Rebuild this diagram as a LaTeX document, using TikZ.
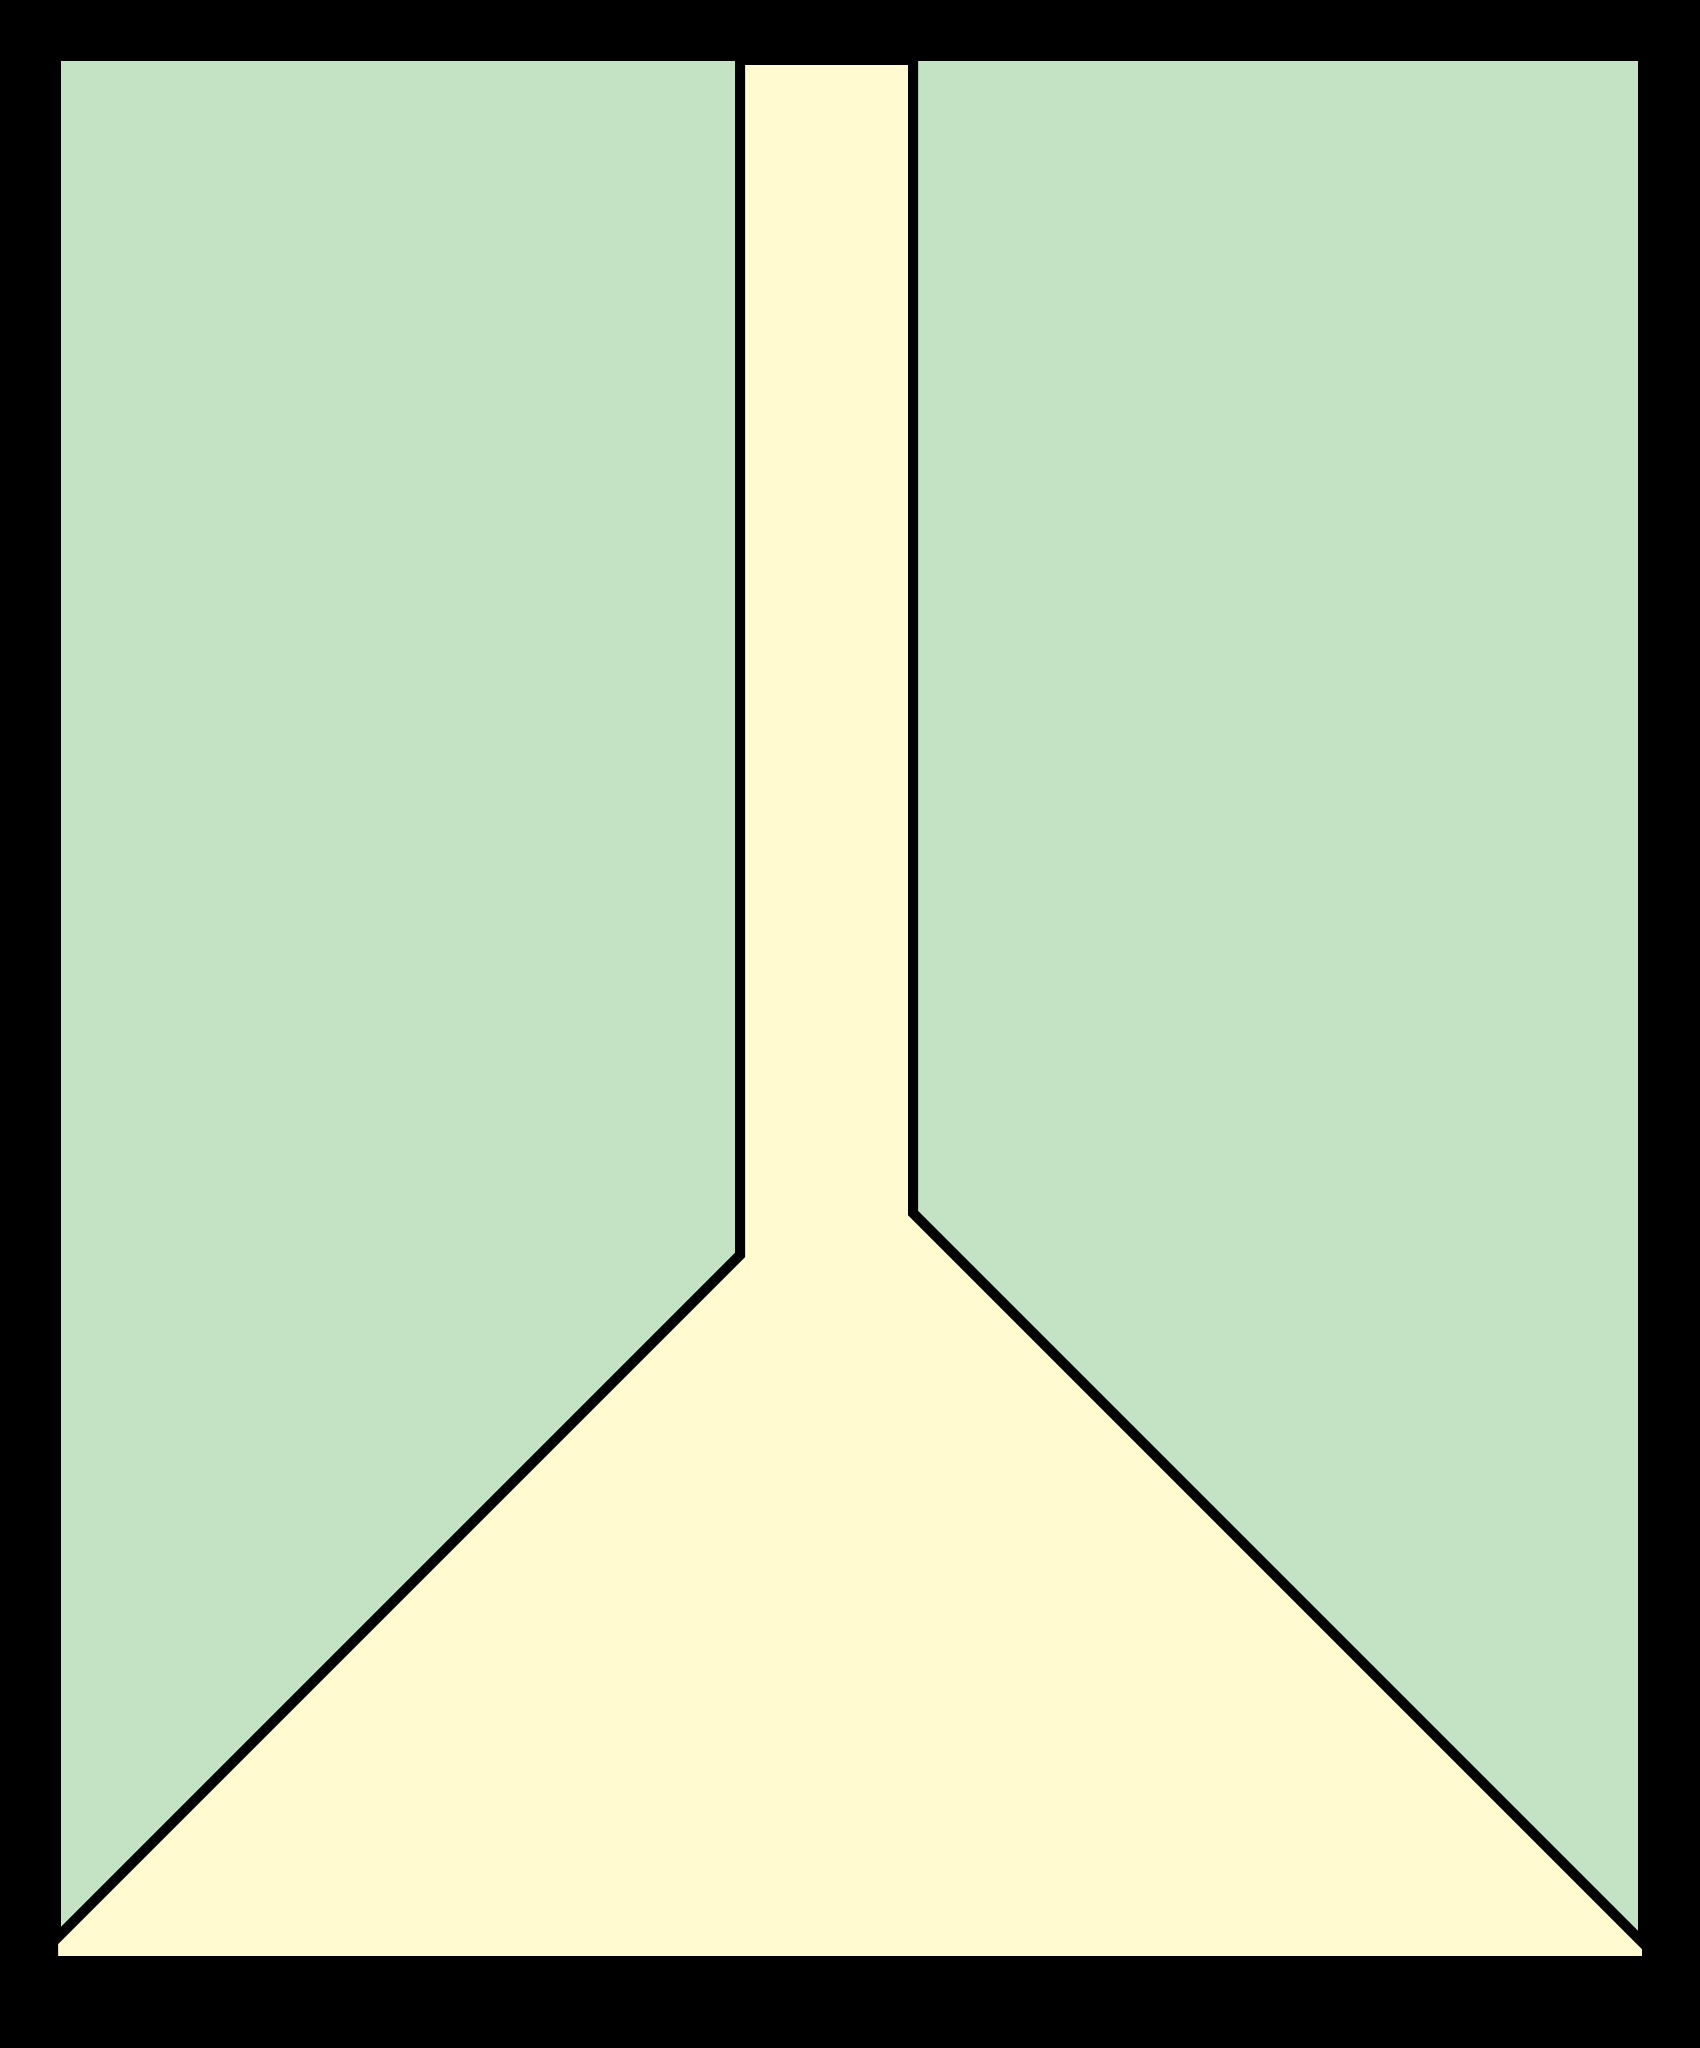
\documentclass[tikz,border=0pt]{standalone}
\usepackage{tikz}

\definecolor{fieldgreen}{RGB}{196,226,196}
\definecolor{funnelyellow}{RGB}{255,250,208}

\begin{document}
\begin{tikzpicture}[x=0.1mm,y=-0.1mm]

% frame
\useasboundingbox (0,0) rectangle (1700,2048);
\fill[black] (0,0) rectangle (1700,2048);

% green field
\fill[fieldgreen] (61,61) rectangle (1638,1956);

% yellow funnel
\filldraw[fill=funnelyellow, draw=black, line width=1mm]
    (740,60) -- (740,1255) -- (53,1942) -- (53,1961)
    -- (1647,1961) -- (1647,1947) -- (913,1213) -- (913,60) -- cycle;

\end{tikzpicture}
\end{document}
